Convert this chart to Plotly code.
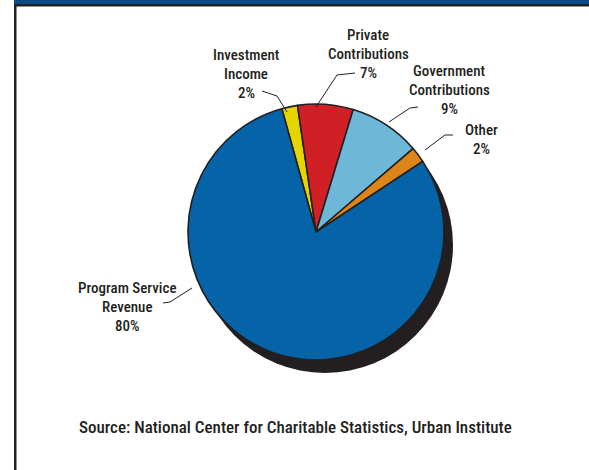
import plotly.graph_objects as go

# ---- data ----
categories = ["Investment Income", "Private Contributions", "Government Contributions", "Other", "Program Service Revenue"]
values = [2, 7, 9, 2, 80]
label_lines = [
    ["Investment", "Income", "2%"],
    ["Private", "Contributions", "7%"],
    ["Government", "Contributions", "9%"],
    ["Other", "2%"],
    ["Program Service", "Revenue", "80%"],
]
colors = ["#e4d400", "#d11f26", "#6db8d9", "#dd8519", "#0564a7"]
source_text = "Source: National Center for Charitable Statistics, Urban Institute"

W, H = 589, 470
INK = "#231f20"
FONT = "Roboto Condensed"

def dom(cx, cy, r):
    # pixel centre (top-left origin) -> paper domain
    return dict(x=[(cx - r) / W, (cx + r) / W],
                y=[(H - cy - r) / H, (H - cy + r) / H])

R = 128
CX, CY = 316, 232

fig = go.Figure()
# shadow
fig.add_trace(go.Pie(values=[sum(values)], labels=["shadow"], sort=False,
                     marker=dict(colors=[INK], line=dict(width=0)),
                     textinfo="none", hoverinfo="skip", showlegend=False,
                     domain=dom(CX + 9, CY + 13, R)))
# main pie
fig.add_trace(go.Pie(values=values, labels=categories, sort=False,
                     direction="clockwise", rotation=-15.5,
                     marker=dict(colors=colors, line=dict(color=INK, width=1.6)),
                     textinfo="none", showlegend=False,
                     domain=dom(CX, CY, R)))

# labels: centre x and first-line y (pixels), line step 19 px
label_pos = [(246, 55), (368, 35.5), (449, 71.5), (481.5, 130), (127.5, 288)]
STEP = 19
for lines, (x, y0) in zip(label_lines, label_pos):
    for k, t in enumerate(lines):
        y = y0 + k * STEP
        fig.add_annotation(x=x / W, y=1 - y / H, xref="paper", yref="paper",
                           text=t, showarrow=False, align="center",
                           xanchor="center", yanchor="middle",
                           font=dict(family=FONT, size=15, color=INK, weight=500))

# leader lines (pixel coords)
leaders = [
    [(262, 91), (277, 96), (287, 112)],
    [(355, 73), (337, 75), (316, 107)],
    [(418, 107), (410, 108), (389, 122)],
    [(453, 135), (445, 135), (425, 150)],
    [(163, 303), (170, 302), (192, 288)],
]
shapes = []
for pts in leaders:
    p = "M " + " L ".join(f"{x / W:.5f},{1 - y / H:.5f}" for x, y in pts)
    shapes.append(dict(type="path", path=p, xref="paper", yref="paper",
                       line=dict(color=INK, width=1)))

# frame: navy top band, dark rule, left border
shapes.append(dict(type="rect", xref="paper", yref="paper",
                   x0=14 / W, x1=1, y0=1 - 4 / H, y1=1,
                   fillcolor="#0b4b8c", line=dict(width=0)))
shapes.append(dict(type="rect", xref="paper", yref="paper",
                   x0=14 / W, x1=1, y0=1 - 6.5 / H, y1=1 - 4 / H,
                   fillcolor=INK, line=dict(width=0)))
shapes.append(dict(type="rect", xref="paper", yref="paper",
                   x0=14 / W, x1=16.5 / W, y0=0, y1=1 - 4 / H,
                   fillcolor=INK, line=dict(width=0)))

fig.add_annotation(x=295 / W, y=1 - 427 / H, xref="paper", yref="paper",
                   text=source_text, showarrow=False,
                   xanchor="center", yanchor="middle",
                   font=dict(family=FONT, size=17, color=INK, weight=500))

fig.update_layout(width=W, height=H, margin=dict(l=0, r=0, t=0, b=0),
                  paper_bgcolor="white", plot_bgcolor="white",
                  shapes=shapes, showlegend=False)

fig.write_html("out.html", config={"displayModeBar": False},
               post_script="document.body.style.margin='0';")
